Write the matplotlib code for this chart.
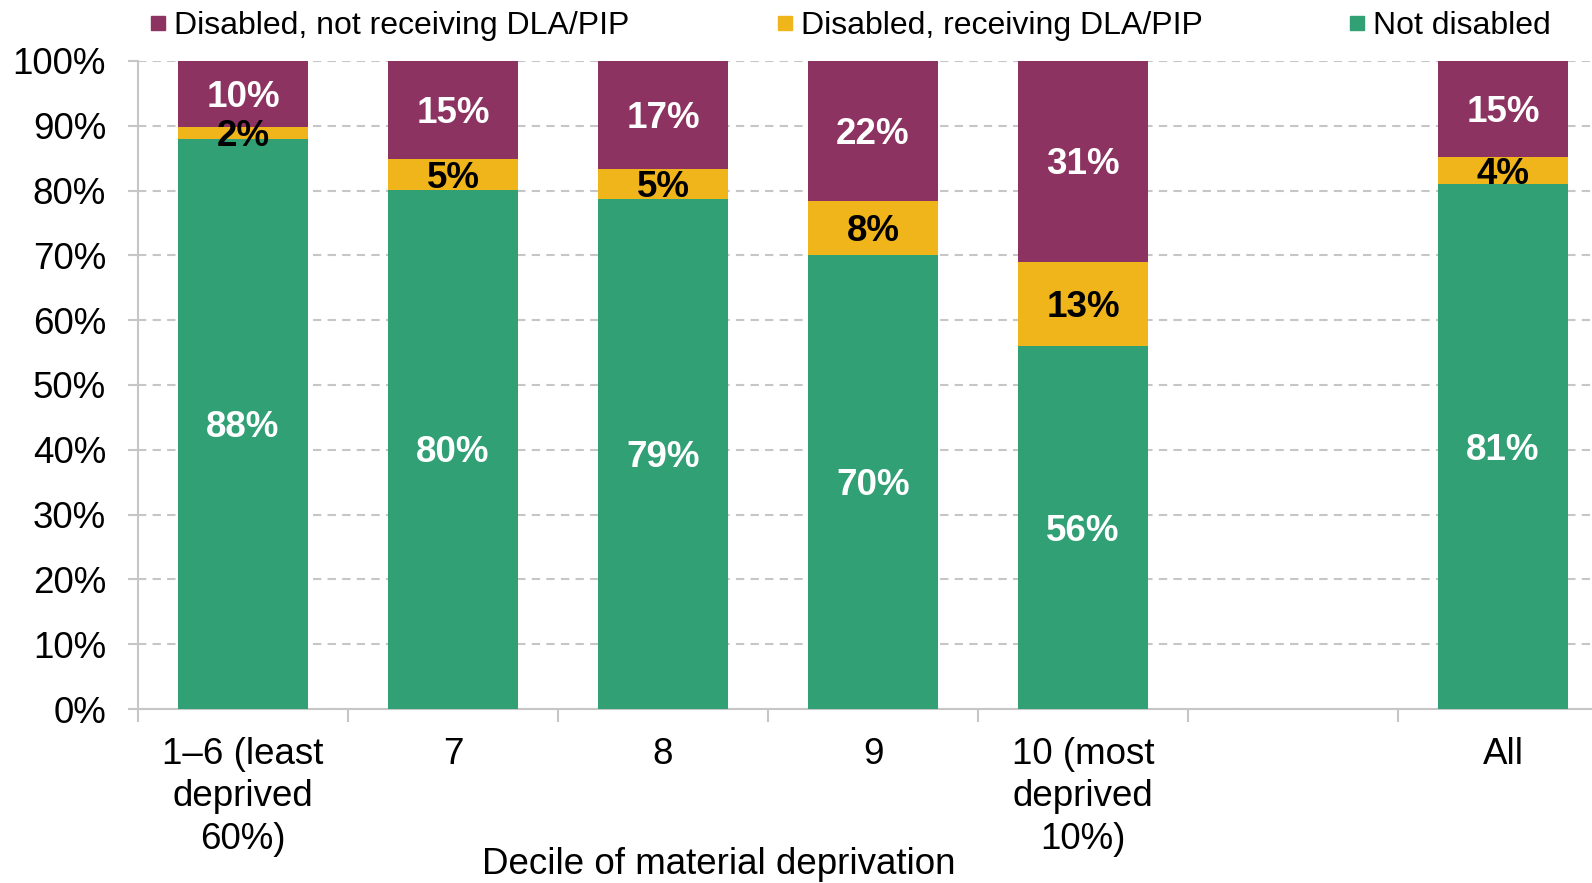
import numpy as np
import matplotlib
matplotlib.use("Agg")
import matplotlib.pyplot as plt
from matplotlib.lines import Line2D

plt.rcParams['font.family'] = ['Liberation Sans', 'DejaVu Sans']

# data (percent of group)
cats = ["1\u20136 (least\ndeprived\n60%)", "7", "8", "9", "10 (most\ndeprived\n10%)", "", "All"]
not_dis = [87.9, 80.1, 78.7, 70.1, 56.0, None, 81.0]
dis_rec = [1.9, 4.7, 4.7, 8.3, 13.0, None, 4.1]
dis_not = [10.2, 15.2, 16.6, 21.6, 31.0, None, 14.9]
series_names = ["Disabled, not receiving DLA/PIP", "Disabled, receiving DLA/PIP", "Not disabled"]

c_green = "#31A075"
c_yellow = "#F1B51C"
c_purple = "#8C3361"
c_grid = "#c6c6c6"

fig = plt.figure(figsize=(15.92, 8.83), dpi=100)
ax = fig.add_axes([0.0867, 0.197, 0.9234, 0.734])

x = np.arange(len(cats))
idx = [i for i in range(len(cats)) if not_dis[i] is not None]
g = np.array([not_dis[i] for i in idx])
yel = np.array([dis_rec[i] for i in idx])
p = np.array([dis_not[i] for i in idx])
xi = x[idx]
w = 0.623

ax.bar(xi, g, w, color=c_green, zorder=3)
ax.bar(xi, yel, w, bottom=g, color=c_yellow, zorder=3)
ax.bar(xi, p, w, bottom=g + yel, color=c_purple, zorder=3)

fs = 26.5
def lab(xx, yy, s, col):
    ax.annotate(s, (xx, yy), xytext=(0, -2.5), textcoords="offset points",
                ha="center", va="center", color=col, fontsize=fs,
                fontweight="bold", zorder=4)

for xx, a, b, c in zip(xi, g, yel, p):
    lab(xx, a / 2, f"{a:.0f}%", "white")
    lab(xx, a + b / 2, f"{b:.0f}%", "black")
    lab(xx, a + b + c / 2, f"{c:.0f}%", "white")

ax.set_xlim(-0.5, 6.5)
ax.set_ylim(0, 100)
ax.set_yticks(np.arange(0, 101, 10))
ax.set_yticklabels([f"{v}%" for v in range(0, 101, 10)], fontsize=fs)
ax.set_xticks(x)
ax.set_xticklabels(cats, fontsize=fs, linespacing=1.28, va="top")
ax.set_xticks(np.arange(-0.5, 6.6, 1), minor=True)
ax.tick_params(axis="x", which="major", length=0, pad=20)
ax.tick_params(axis="x", which="minor", length=9, width=1.5, color=c_grid)
ax.tick_params(axis="y", length=7, width=1.5, color=c_grid, pad=16)

ax.grid(axis="y", color=c_grid, linestyle=(0, (4, 3)), linewidth=1.5, zorder=0)
for s in ["top", "right"]:
    ax.spines[s].set_visible(False)
for s in ["left", "bottom"]:
    ax.spines[s].set_color(c_grid)
    ax.spines[s].set_linewidth(1.5)

fig.text(0.4516, 0.021, "Decile of material deprivation", ha="center", va="center", fontsize=fs)

handles = [Line2D([], [], marker="s", linestyle="none", markersize=10, color=c)
           for c in [c_purple, c_yellow, c_green]]
fig.legend(handles, series_names, loc="center left", bbox_to_anchor=(0.0945, 0.970),
           ncol=3, frameon=False, fontsize=23, handlelength=0.5, handletextpad=0.25,
           columnspacing=4.6, borderpad=0, borderaxespad=0)

fig.savefig("out.png", dpi=100)
